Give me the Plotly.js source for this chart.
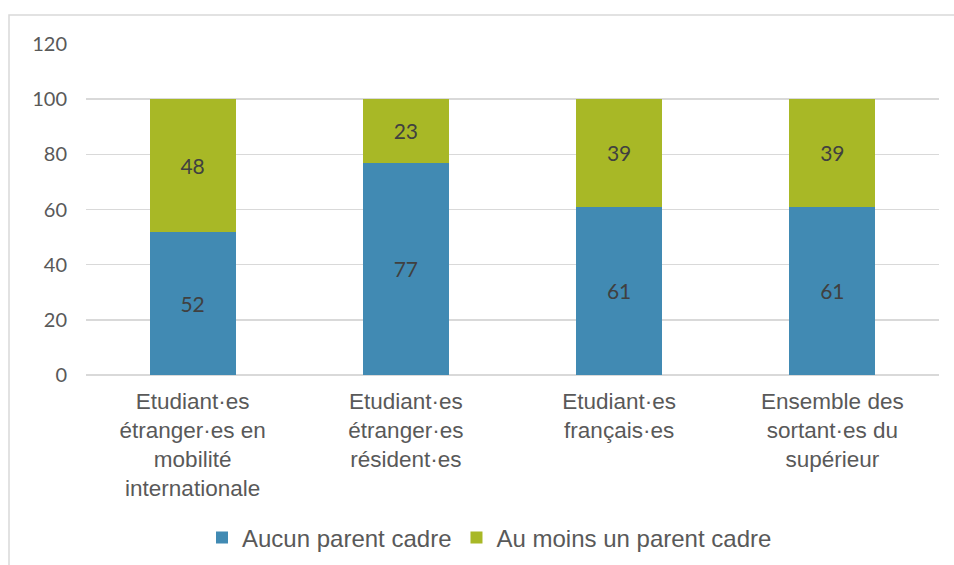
<!DOCTYPE html>
<html><head><meta charset="utf-8">
<script src="https://cdn.plot.ly/plotly-3.0.1.min.js"></script>
<style>html,body{margin:0;padding:0;background:#fff}#chart{width:954px;height:565px}</style>
</head><body><div id="chart"></div>
<script>
const categories = [
  "Etudiant·es<br>étranger·es en<br>mobilité<br>internationale",
  "Etudiant·es<br>étranger·es<br>résident·es",
  "Etudiant·es<br>français·es",
  "Ensemble des<br>sortant·es du<br>supérieur"
];
const aucunParentCadre = [52, 77, 61, 61];
const auMoinsUnParentCadre = [48, 23, 39, 39];
const seriesNames = ["Aucun parent cadre", "Au moins un parent cadre"];
const yTicks = [0, 20, 40, 60, 80, 100, 120];

const labelFont = {family: "Lato, 'Open Sans', sans-serif", size: 21, color: "#404040"};
const traces = [
  {type: "bar", name: seriesNames[0], x: categories, y: aucunParentCadre,
   marker: {color: "#418ab3"}, text: aucunParentCadre.map(String),
   textposition: "inside", insidetextanchor: "middle", textfont: labelFont,
   constraintext: "none", hoverinfo: "skip"},
  {type: "bar", name: seriesNames[1], x: categories, y: auMoinsUnParentCadre,
   marker: {color: "#a8b826"}, text: auMoinsUnParentCadre.map(String),
   textposition: "inside", insidetextanchor: "middle", textfont: labelFont,
   constraintext: "none", hoverinfo: "skip"}
];
const W = 853, H = 331;
const layout = {
  width: 954, height: 565,
  margin: {l: 86, r: 15, t: 44, b: 190, autoexpand: false},
  barmode: "stack", bargap: 0.597,
  paper_bgcolor: "#fff", plot_bgcolor: "#fff",
  showlegend: true,
  legend: {orientation: "h", x: (202 - 86) / W, xanchor: "left", y: (375 - 538) / H, yanchor: "middle",
           font: {family: "'Liberation Sans', Arial, sans-serif", size: 24, color: "#595959"},
           itemwidth: 30, tracegroupgap: 0, traceorder: "normal"},
  xaxis: {tickfont: {family: "'Liberation Sans', Arial, sans-serif", size: 22.5, color: "#595959"},
          showgrid: false, showline: false, zeroline: false, ticks: "", ticklabelstandoff: 10, fixedrange: true},
  yaxis: {range: [0, 120], tickvals: yTicks, ticktext: yTicks.map(String),
          tickfont: {family: "Lato, 'Open Sans', sans-serif", size: 20, color: "#595959"},
          showgrid: true, gridcolor: "#d9d9d9", gridwidth: 1.5,
          zeroline: true, zerolinecolor: "#d9d9d9", zerolinewidth: 1.5,
          showline: false, ticks: "", ticklabelstandoff: 18, fixedrange: true},
  shapes: [{type: "rect", xref: "paper", yref: "paper",
            x0: (9 - 86) / W, x1: (975 - 86) / W, y0: (375 - 600) / H, y1: (375 - 15) / H,
            line: {color: "#d9d9d9", width: 1.5}, fillcolor: "rgba(0,0,0,0)", layer: "below"}]
};
Plotly.newPlot("chart", traces, layout, {displayModeBar: false, staticPlot: true});
</script></body></html>
